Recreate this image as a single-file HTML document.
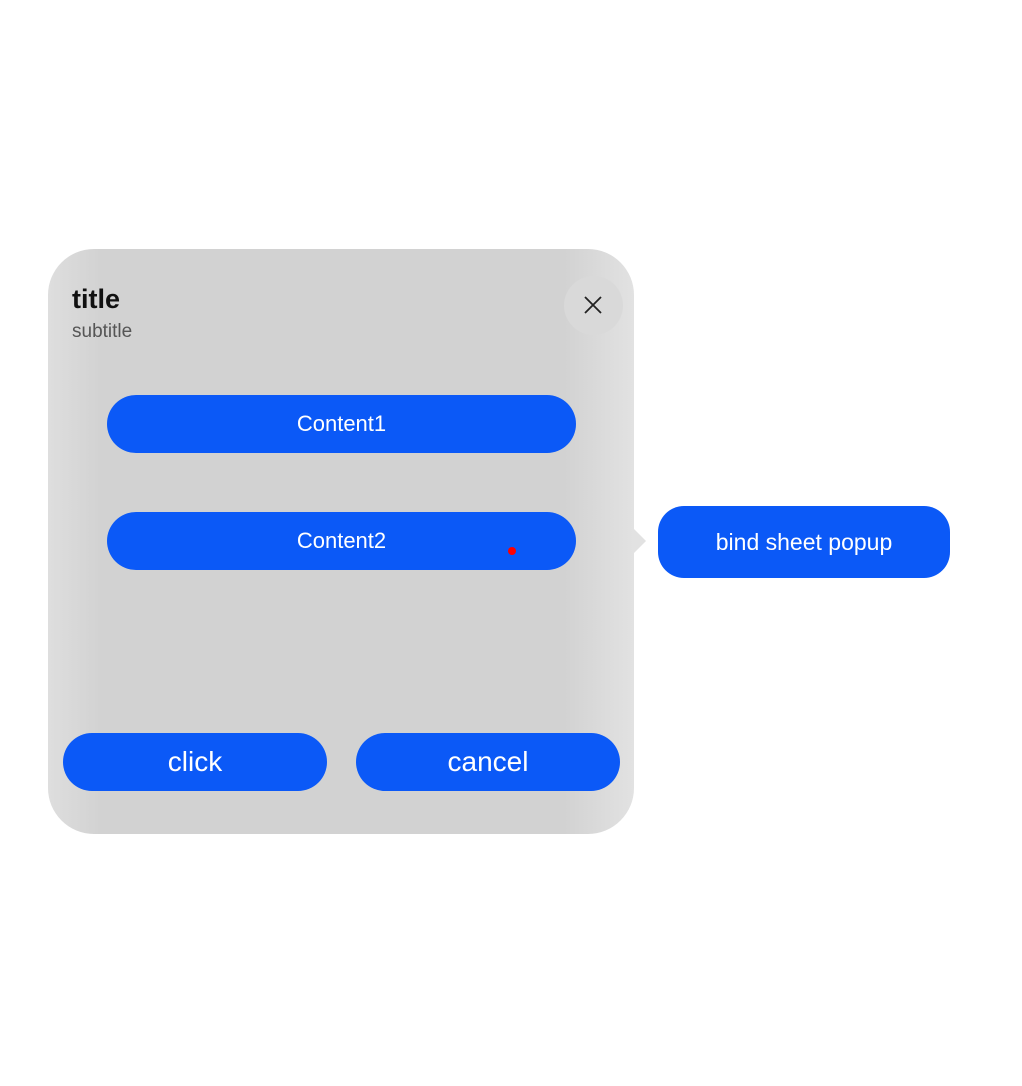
<!DOCTYPE html>
<html><head><style>
body{margin:0;width:1022px;height:1086px;background:#fff;position:relative;font-family:"Liberation Sans",sans-serif;overflow:hidden}
.a{position:absolute}
.sheet{left:48px;top:249px;width:586px;height:585px;border-radius:46px;background:linear-gradient(90deg,#dedede 0%,#d2d2d2 9%,#d2d2d2 88%,#e2e2e2 100%);}
.btn{position:absolute;background:#0b59f7;color:#fff;display:flex;align-items:center;justify-content:center}
</style></head><body>
<div class="a sheet"></div>
<div class="a" style="left:634px;top:529px;width:0;height:0;border-top:12px solid transparent;border-bottom:12px solid transparent;border-left:12px solid #e2e2e2"></div>
<div class="a" style="left:72px;top:284px;font-size:27px;font-weight:bold;color:#111">title</div>
<div class="a" style="left:72px;top:321px;font-size:19px;color:#555">subtitle</div>
<div class="a" style="left:564px;top:276px;width:59px;height:59px;border-radius:50%;background:#d9d9d9"></div>
<svg class="a" style="left:583px;top:295px" width="20" height="20"><path d="M2 2L18 18M18 2L2 18" stroke="#222" stroke-width="1.8"/></svg>
<div class="btn" style="left:107px;top:395px;width:469px;height:58px;border-radius:29px;font-size:22px">Content1</div>
<div class="btn" style="left:107px;top:512px;width:469px;height:58px;border-radius:29px;font-size:22px">Content2</div>
<div class="a" style="left:508px;top:547px;width:8px;height:8px;border-radius:50%;background:#f00"></div>
<div class="btn" style="left:63px;top:733px;width:264px;height:58px;border-radius:29px;font-size:28px">click</div>
<div class="btn" style="left:356px;top:733px;width:264px;height:58px;border-radius:29px;font-size:28px">cancel</div>
<div class="btn" style="left:658px;top:506px;width:292px;height:72px;border-radius:26px;font-size:23px">bind sheet popup</div>
</body></html>
